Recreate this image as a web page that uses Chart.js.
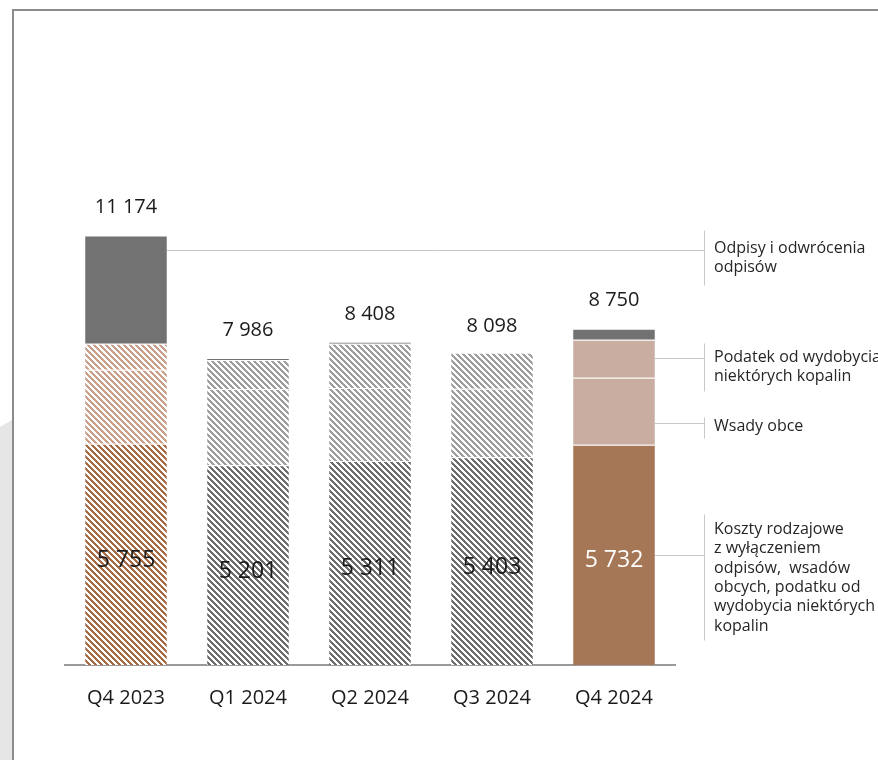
<!DOCTYPE html>
<html>
<head>
<meta charset="utf-8">
<script src="https://cdn.jsdelivr.net/npm/chart.js@4/dist/chart.umd.min.js"></script>
<style>
  html, body { margin: 0; padding: 0; background: #fff; }
  body { width: 878px; height: 760px; position: relative; overflow: hidden; }
  #ramka { position: absolute; left: 12px; top: 9px; right: -10px; bottom: -10px;
           border-top: 2px solid #8c8c8c; border-left: 2px solid #8c8c8c; }
  #cien { position: absolute; left: 0; top: 420px; width: 12px; height: 340px; background: #e6e6e6;
          clip-path: polygon(0 7px, 100% 0, 100% 100%, 0 100%); }
  #grafica { position: absolute; left: 0; top: 0; }
</style>
</head>
<body>
<div id="cien"></div>
<div id="ramka"></div>
<canvas id="grafica" width="878" height="760"></canvas>
<script>
// dane (mln PLN)
const kwartaly = ['Q4 2023', 'Q1 2024', 'Q2 2024', 'Q3 2024', 'Q4 2024'];
const koszty  = [5755, 5201, 5311, 5403, 5732];
const wsady   = [1928, 1980, 1900, 1787, 1745];
const podatek = [677, 755, 1150, 937, 990];
const odpisy  = [2814, 50, 47, -29, 283];
const sumy    = [11174, 7986, 8408, 8098, 8750];

// opisy po prawej stronie
const opisy = [
    {tekst: ['Odpisy i odwrócenia', 'odpisów'], wartosc: 10800, slupek: 0, dy: -2, gora: -20, dol: 35},
    {tekst: ['Podatek od wydobycia', 'niektórych kopalin'], wartosc: 8000, slupek: 4, dy: -1, gora: -15, dol: 33},
    {tekst: ['Wsady obce'], wartosc: 6300, slupek: 4, dy: 3, gora: -6, dol: 15},
    {tekst: ['Koszty rodzajowe', 'z wyłączeniem', 'odpisów,  wsadów', 'obcych, podatku od',
             'wydobycia niektórych', 'kopalin'], wartosc: 2850, slupek: 4, dy: -26, gora: -41, dol: 85}
];

const fuente = '"Open Sans", "Noto Sans", sans-serif';

function formato(n) {
    return String(n).replace(/\B(?=(\d{3})+(?!\d))/g, ' ');
}

// wzór ukośnych pasków
function kreskowanie(color) {
    const n = 6;
    const c = document.createElement('canvas');
    c.width = n; c.height = n;
    const cx = c.getContext('2d');
    cx.fillStyle = '#ffffff';
    cx.fillRect(0, 0, n, n);
    cx.fillStyle = color;
    for (let y = 0; y < n; y++) {
        for (let x = 0; x < n; x++) {
            if (((x - y) % n + n) % n < 3) cx.fillRect(x, y, 1, 1);
        }
    }
    return document.getElementById('grafica').getContext('2d').createPattern(c, 'repeat');
}

const brazKresk = kreskowanie('#a66c48');
const jasnyBrazKresk = kreskowanie('#c9a08c');
const szaryKresk = kreskowanie('#6e6e6e');
const jasnySzaryKresk = kreskowanie('#9e9e9e');

const plugin = {
    id: 'etykiety',
    afterDatasetsDraw(chart) {
        const ctx = chart.ctx;
        const x = chart.scales.x;
        const y = chart.scales.y;
        ctx.save();
        ctx.textAlign = 'center';
        ctx.textBaseline = 'middle';
        // sumy nad słupkami
        ctx.font = '20px ' + fuente;
        ctx.fillStyle = '#1a1a1a';
        sumy.forEach(function (s, i) {
            ctx.fillText(formato(s), x.getPixelForValue(i), y.getPixelForValue(s) - 28);
        });
        // wartości kosztów w słupkach
        ctx.font = '23px ' + fuente;
        const meta = chart.getDatasetMeta(0);
        koszty.forEach(function (v, i) {
            const el = meta.data[i];
            ctx.fillStyle = i == 4 ? '#ffffff' : '#1a1a1a';
            ctx.fillText(formato(v), el.x, (el.y + el.base) / 2 + 6);
        });
        // linie i opisy
        const xKreska = chart.chartArea.right + 29;
        ctx.strokeStyle = '#c8c8c8';
        ctx.lineWidth = 1;
        ctx.textAlign = 'left';
        ctx.font = '16px ' + fuente;
        ctx.fillStyle = '#262626';
        opisy.forEach(function (o) {
            const el = chart.getDatasetMeta(0).data[o.slupek];
            const yy = Math.round(y.getPixelForValue(o.wartosc)) + 0.5;
            ctx.beginPath();
            ctx.moveTo(el.x + el.width / 2, yy);
            ctx.lineTo(xKreska, yy);
            ctx.moveTo(xKreska + 0.5, yy + o.gora);
            ctx.lineTo(xKreska + 0.5, yy + o.dol);
            ctx.stroke();
            o.tekst.forEach(function (t, k) {
                ctx.fillText(t, xKreska + 10, yy + o.dy + k * 19.3);
            });
        });
        ctx.restore();
    }
};

const ctx = document.getElementById('grafica');
const mychart = new Chart(ctx, {
    type: 'bar',
    data: {
        labels: kwartaly,
        datasets: [
            {
                label: 'Koszty rodzajowe',
                data: koszty,
                backgroundColor: [brazKresk, szaryKresk, szaryKresk, szaryKresk, '#a67757']
            },
            {
                label: 'Wsady obce',
                data: wsady,
                backgroundColor: [jasnyBrazKresk, jasnySzaryKresk, jasnySzaryKresk, jasnySzaryKresk, '#c9ada1']
            },
            {
                label: 'Podatek od wydobycia niektórych kopalin',
                data: podatek,
                backgroundColor: [jasnyBrazKresk, jasnySzaryKresk, jasnySzaryKresk, jasnySzaryKresk, '#c9ada1']
            },
            {
                label: 'Odpisy i odwrócenia odpisów',
                data: odpisy,
                backgroundColor: '#727272'
            }
        ]
    },
    options: {
        responsive: false,
        animation: false,
        layout: { padding: { left: 65, right: 203, top: 127, bottom: 0 } },
        datasets: {
            bar: {
                categoryPercentage: 1,
                barPercentage: 0.67,
                borderColor: '#ffffff',
                borderWidth: { top: 1, bottom: 0, left: 0, right: 0 },
                borderSkipped: false,
                clip: false
            }
        },
        plugins: {
            legend: { display: false },
            tooltip: { enabled: false }
        },
        scales: {
            x: {
                stacked: true,
                grid: { display: false },
                border: { display: true, color: '#9a9a9a', width: 2 },
                ticks: { color: '#1a1a1a', font: { family: fuente, size: 20 }, padding: 13 },
                afterFit: function (s) { s.height = 95; }
            },
            y: {
                stacked: true,
                display: false,
                min: 0,
                max: 14000
            }
        }
    },
    plugins: [plugin]
});
</script>
</body>
</html>
